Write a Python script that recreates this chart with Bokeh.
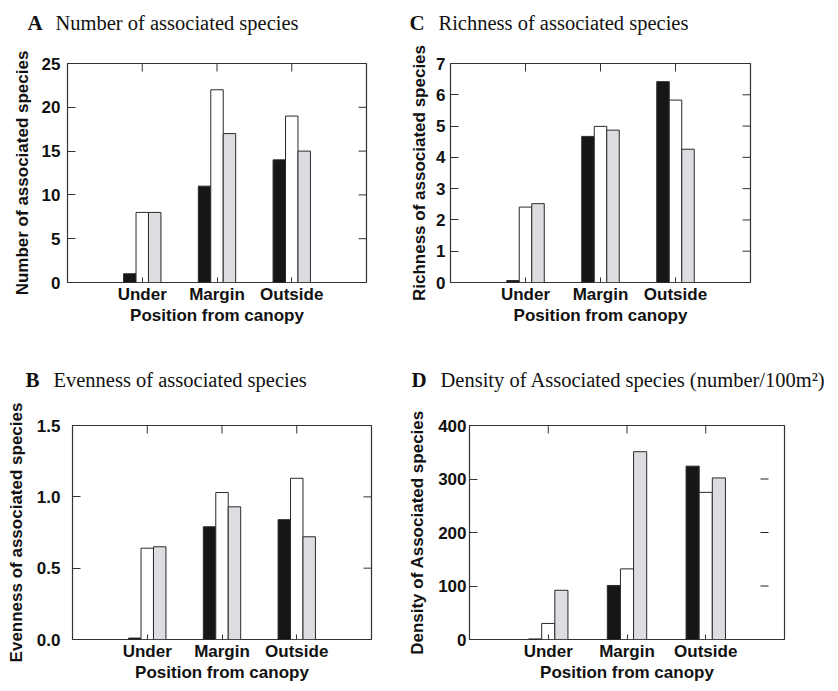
import math
from bokeh.plotting import figure
from bokeh.models import Range1d, FixedTicker, ColumnDataSource
from bokeh.layouts import row, column
from bokeh.transform import dodge
from bokeh.core.properties import value
from bokeh.embed import file_html
from bokeh.resources import INLINE

categories = ["Under", "Margin", "Outside"]

# Panel A: number of associated species
a_dark = [1, 11, 14]
a_white = [8, 22, 19]
a_gray = [8, 17, 15]
a_ticks = [0, 5, 10, 15, 20, 25]
a_labels = ["0", "5", "10", "15", "20", "25"]

# Panel C: richness
c_dark = [0.06, 4.67, 6.42]
c_white = [2.41, 4.99, 5.83]
c_gray = [2.52, 4.87, 4.26]
c_ticks = [0, 1, 2, 3, 4, 5, 6, 7]
c_labels = ["0", "1", "2", "3", "4", "5", "6", "7"]

# Panel B: evenness
b_dark = [0.01, 0.79, 0.84]
b_white = [0.64, 1.03, 1.13]
b_gray = [0.65, 0.93, 0.72]
b_ticks = [0.0, 0.5, 1.0, 1.5]
b_labels = ["0.0", "0.5", "1.0", "1.5"]

# Panel D: density
d_dark = [1, 101, 324]
d_white = [30, 132, 275]
d_gray = [92, 351, 302]
d_ticks = [0, 100, 200, 300, 400]
d_labels = ["0", "100", "200", "300", "400"]

panel_letters_top = ["A", "C"]
panel_titles_top = ["Number of associated species", "Richness of associated species"]
panel_letters_bottom = ["B", "D"]
panel_titles_bottom = ["Evenness of associated species",
                       "Density of Associated species (number/100m\u00b2)"]

SANS = "Liberation Sans"
SERIF = "Liberation Serif"
DARK = "#161616"
GRAY = "#dcdde0"
EDGE = "#2a2a2a"
TXT = "#111111"
FS = "17px"
TOTAL_W = 836


def title_band(letters, titles, letter_xs, text_xs, baseline, height, width=TOTAL_W):
    t = figure(width=width, height=height, output_backend="svg", title=None,
               toolbar_location=None, x_range=Range1d(0, width),
               y_range=Range1d(height, 0), min_border=0)
    t.axis.visible = False
    t.grid.visible = False
    t.outline_line_color = None
    t.text(x=letter_xs, y=[baseline] * len(letters), text=letters,
           text_font=value(SERIF), text_font_style="bold",
           text_font_size=value("21px"), text_color=TXT,
           text_baseline="alphabetic")
    t.text(x=text_xs, y=[baseline] * len(titles), text=titles,
           text_font=value(SERIF), text_font_size=value("20.5px"),
           text_color=TXT, text_baseline="alphabetic")
    return t


def panel(ylabel, dark, white, gray, ticks, labels, ymax,
          width, height, lb, rb, tb, bb, tick_std, lab_std,
          right_ticks=True, displaced_right=None):
    p = figure(width=width, height=height, output_backend="svg", title=None,
               toolbar_location=None, x_range=Range1d(0, 4),
               y_range=Range1d(0, ymax),
               min_border_left=lb, min_border_right=rb,
               min_border_top=tb, min_border_bottom=bb)
    p.xgrid.visible = False
    p.ygrid.visible = False
    p.outline_line_color = "#333333"
    p.outline_line_width = 1.2

    pos = [i + 1 for i in range(len(categories))]
    src = ColumnDataSource(dict(pos=pos, dark=dark, white=white, gray=gray))
    w = 1 / 6
    p.vbar(x=dodge("pos", -w, range=p.x_range), top="dark", width=w,
           source=src, fill_color=DARK, line_color=EDGE, line_width=1)
    p.vbar(x="pos", top="white", width=w, source=src,
           fill_color="white", line_color=EDGE, line_width=1)
    p.vbar(x=dodge("pos", w, range=p.x_range), top="gray", width=w,
           source=src, fill_color=GRAY, line_color=EDGE, line_width=1)

    # bottom axis
    xa = p.xaxis[0]
    xa.ticker = FixedTicker(ticks=pos)
    xa.major_label_overrides = {pp: c for pp, c in zip(pos, categories)}
    xa.major_tick_in = 5
    xa.major_tick_out = 0
    xa.minor_tick_line_color = None
    xa.axis_line_color = None
    xa.major_tick_line_color = "#333333"
    xa.major_label_text_font = SANS
    xa.major_label_text_font_style = "bold"
    xa.major_label_text_font_size = FS
    xa.major_label_text_color = TXT
    xa.major_label_standoff = 2
    xa.axis_label = "Position from canopy"
    xa.axis_label_text_font = SANS
    xa.axis_label_text_font_style = "bold"
    xa.axis_label_text_font_size = FS
    xa.axis_label_text_color = TXT
    xa.axis_label_standoff = -1

    # top ticks (inward)
    p.ray(x=pos, y=[ymax] * len(pos), length=8, length_units="screen",
          angle=-math.pi / 2, line_color="#333333", line_width=1)

    # left axis
    ya = p.yaxis[0]
    ya.ticker = FixedTicker(ticks=ticks)
    ya.major_label_overrides = {t: l for t, l in zip(ticks, labels)}
    ya.major_tick_in = 8
    ya.major_tick_out = 0
    ya.minor_tick_line_color = None
    ya.axis_line_color = None
    ya.major_tick_line_color = "#333333"
    ya.major_label_text_font = SANS
    ya.major_label_text_font_style = "bold"
    ya.major_label_text_font_size = FS
    ya.major_label_text_color = TXT
    ya.major_label_standoff = tick_std
    ya.axis_label = ylabel
    ya.axis_label_text_font = SANS
    ya.axis_label_text_font_style = "bold"
    ya.axis_label_text_font_size = FS
    ya.axis_label_text_color = TXT
    ya.axis_label_standoff = lab_std

    if right_ticks:
        p.ray(x=[4] * len(ticks), y=ticks, length=8, length_units="screen",
              angle=math.pi, line_color="#333333", line_width=1)
    if displaced_right is not None:
        inner = ticks[1:-1]
        p.ray(x=[displaced_right] * len(inner), y=inner, length=8,
              length_units="screen", angle=0, line_color="#222222",
              line_width=1)
    return p


band1 = title_band(panel_letters_top, panel_titles_top, [27, 409], [55, 438], 22, 36)
pA = panel("Number of associated species",
           a_dark, a_white, a_gray, a_ticks, a_labels, 25,
           400, 304, 67, 34, 22, 58, 7, 7)
pC = panel("Richness of associated species",
           c_dark, c_white, c_gray, c_ticks, c_labels, 7,
           436, 304, 50, 86, 27, 53, 5, 4)
band2 = title_band(panel_letters_bottom, panel_titles_bottom, [25, 411], [53, 440], 39, 52)
pB = panel("Evenness of associated species",
           b_dark, b_white, b_gray, b_ticks, b_labels, 1.5,
           400, 298, 72, 29, 33, 41, 12, 8)
pD = panel("Density of Associated species",
           d_dark, d_white, d_gray, d_ticks, d_labels, 400,
           436, 298, 69, 52, 24, 51, 3, 8,
           right_ticks=False, displaced_right=3.695)

layout = column(band1, row(pA, pC), band2, row(pB, pD))
open("out.html", "w").write(file_html(layout, INLINE))
